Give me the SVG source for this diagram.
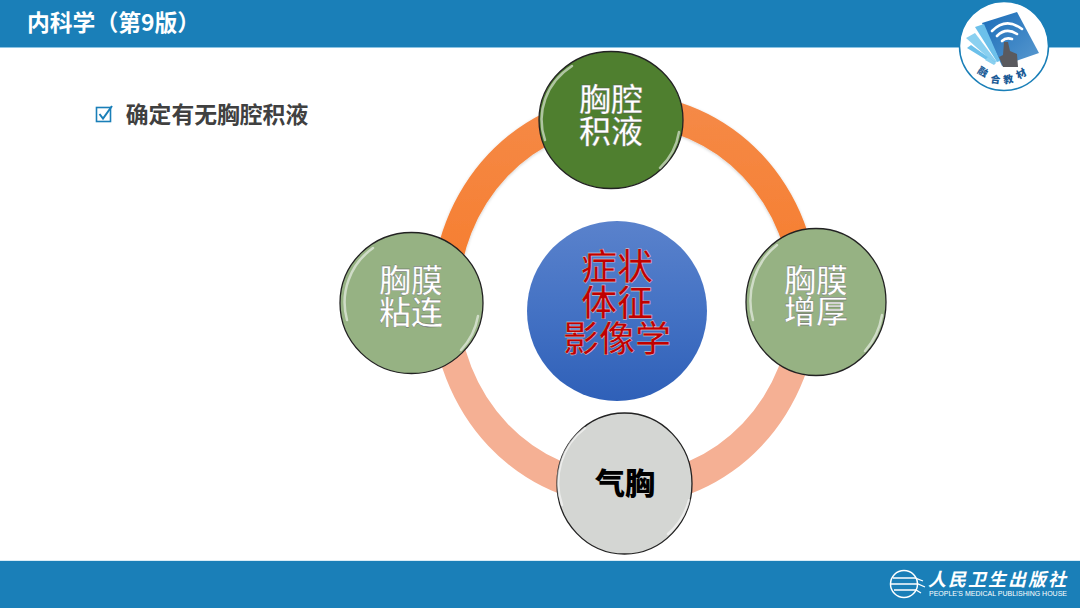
<svg xmlns="http://www.w3.org/2000/svg" width="1080" height="608" viewBox="0 0 1080 608">
<style>
text{font-family:"Noto Sans CJK SC","Liberation Sans",sans-serif;text-anchor:middle}
.node{stroke:#222;stroke-width:1.3}
.gloss{fill:none;stroke:#fff;stroke-width:2.500;stroke-linecap:round;opacity:.55}
.w{fill:#fff;font-size:32px;font-weight:500;stroke:#555;stroke-width:.3}
.r{fill:#c00000;font-size:36px;font-weight:500;stroke:#e4e4e4;stroke-width:.35}
.bar{fill:#1a7fb8}
</style>
<defs>
<linearGradient id="blue" x1="0" y1="0" x2="0" y2="1"><stop offset="0" stop-color="#5a82cc"/><stop offset=".5" stop-color="#4472c4"/><stop offset="1" stop-color="#2f60b8"/></linearGradient>
<linearGradient id="or" x1="0" y1="0" x2="0" y2="1"><stop offset="0" stop-color="#f58a48"/><stop offset="1" stop-color="#f67c2c"/></linearGradient>
<linearGradient id="page" x1="0" y1="0" x2="1" y2="1"><stop offset="0" stop-color="#1a6cb8"/><stop offset="1" stop-color="#5a9ad0"/></linearGradient>
<filter id="soft" x="-10%" y="-10%" width="120%" height="120%"><feDropShadow dx="0" dy="1" stdDeviation="1.500" flood-color="#000" flood-opacity=".2"/></filter>
</defs>

<rect width="1080" height="608" fill="#fff"/>
<g id="header">
<rect class="bar" width="1080" height="47"/>
<rect y="47" width="1080" height="1" fill="#8cc4e4"/>
<text x="27" y="31" font-size="22.800" font-weight="700" fill="#fff" style="text-anchor:start">内科学（第9版）</text>
</g>
<g id="footer">
<rect class="bar" y="561" width="1080" height="47"/>
<rect y="560" width="1080" height="1" fill="#d8ecf6"/>
</g>

<g id="logo-top">
<circle cx="1004" cy="46" r="44.500" fill="#fff" stroke="#1a7fb8" stroke-width="1.500"/>
<polygon points="982,23 1017,12 1039,53 1002,66" fill="url(#page)"/>
<polygon points="975,27 984,24 1000,61 997,62" fill="#6cc0ea"/>
<polygon points="966,38 975,33 997,62 994,63" fill="#8ad0f0"/>
<polygon points="967,48 971,45 995,62 993,64" fill="#6cc0ea"/>
<polygon points="985,60 988,57 996,63 994,65" fill="#8ad0f0"/>
<g fill="none" stroke="#fff" stroke-width="2.600" stroke-linecap="round">
<path d="M992,31Q1006,17 1022,29"/>
<path d="M997,36Q1006,27 1017,34"/>
<path d="M1002,41Q1006,37 1012,39"/>
</g>
<path d="M1004,42L1008,42L1010,51L1017,54L1018,67L1003,67L999,57L1003,55Z" fill="#5a5a5e"/>
<text transform="translate(981,75) rotate(30)" font-size="10" font-weight="900" fill="#1a5a96">融</text>
<text transform="translate(995,83) rotate(8)" font-size="10" font-weight="900" fill="#1a5a96">合</text>
<text transform="translate(1009,83) rotate(-10)" font-size="10" font-weight="900" fill="#1a5a96">教</text>
<text transform="translate(1023,77) rotate(-28)" font-size="10" font-weight="900" fill="#1a5a96">材</text>
</g>

<g id="bullet">
<rect x="96.500" y="107.500" width="14" height="14" fill="#fff" stroke="#1a7fb8" stroke-width="1.600"/>
<path d="M99.500,114L103,118.500L112,106" fill="none" stroke="#1a7fb8" stroke-width="2"/>
<text x="217" y="123" font-size="22.800" font-weight="700" fill="#404040">确定有无胸腔积液</text>
</g>

<g id="connectors">
<path fill="url(#or)" filter="url(#soft)" fill-rule="evenodd" d="M431.500,300A193.500,206 0 0 1 818.500,300H791.400A166.400,174.600 0 0 0 458.600,300Z"/>
<path fill="#f5b094" fill-rule="evenodd" d="M431.500,300A193.500,206 0 0 0 818.500,300H791.400A166.400,174.600 0 0 1 458.600,300Z"/>
</g>

<g id="node-top">
<ellipse class="node" cx="611" cy="120" rx="72" ry="68.500" fill="#4f7f2f"/>
<path class="gloss" d="M545,140A69,65 0 0 1 572,66"/>
<path class="gloss" d="M679,132A69,65 0 0 1 660,168"/>
<text class="w" x="611" y="111">胸腔<tspan x="611" dy="32">积液</tspan></text>
</g>
<g id="node-right">
<ellipse class="node" cx="816" cy="302" rx="70" ry="73.500" fill="#96b283"/>
<path class="gloss" d="M753,320A67,70 0 0 1 777,245"/>
<path class="gloss" d="M882,315A67,70 0 0 1 865,351"/>
<text class="w" x="816" y="292">胸膜<tspan x="816" dy="31">增厚</tspan></text>
</g>
<g id="node-left">
<ellipse class="node" cx="411.500" cy="303" rx="71.500" ry="70.500" fill="#96b283"/>
<path class="gloss" d="M347,320A68,67 0 0 1 373,248"/>
<path class="gloss" d="M478,316A68,67 0 0 1 461,350"/>
<text class="w" x="411" y="292">胸膜<tspan x="411" dy="32">粘连</tspan></text>
</g>
<g id="node-bottom">
<ellipse class="node" cx="624.500" cy="483.500" rx="67.500" ry="70.500" fill="#d4d6d3"/>
<path class="gloss" d="M562,505A65,67 0 0 1 585,428"/>
<path class="gloss" d="M689,500A65,67 0 0 1 668,534"/>
<text x="625" y="494" font-size="30" font-weight="900" fill="#000">气胸</text>
</g>
<g id="node-center">
<circle cx="617" cy="311" r="90" fill="url(#blue)"/>
<text class="r" x="617" y="280">症状<tspan x="617" dy="36">体征</tspan><tspan x="617" dy="36">影像学</tspan></text>
</g>

<g id="logo-bottom">
<circle cx="904" cy="584" r="13.500" fill="none" stroke="#fff" stroke-width="1.500"/>
<g fill="none" stroke="#fff" stroke-width="1.300">
<path d="M893,578H915L923,581"/>
<path d="M891,584H918L925,587"/>
<path d="M894,590H916L921,593"/>
</g>
<text x="998" y="586" font-size="18" font-weight="700" fill="#fff" font-style="italic" letter-spacing="2">人民卫生出版社</text>
<text x="998" y="596" font-size="7" fill="#fff" style="font-family:'Liberation Sans',sans-serif">PEOPLE'S MEDICAL PUBLISHING HOUSE</text>
</g>
</svg>
